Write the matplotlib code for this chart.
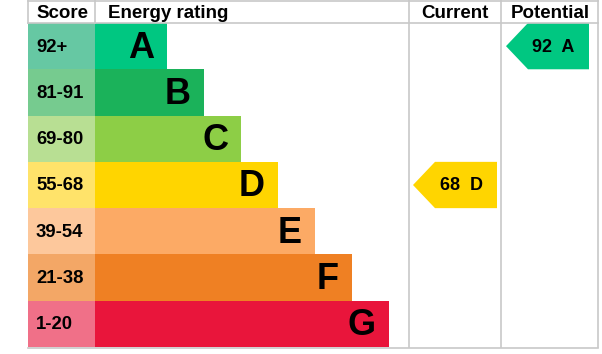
"""EPC energy rating chart."""

import matplotlib.pyplot as plt
from matplotlib.patches import Polygon

plt.rcParams['font.family'] = ['Liberation Sans', 'DejaVu Sans']

# =============================================================================
# data
bands = ['A', 'B', 'C', 'D', 'E', 'F', 'G']
scores = ['92+', '81-91', '69-80', '55-68', '39-54', '21-38', '1-20']
bar_len = [72, 109, 146, 183, 220, 257, 294]
bar_colors = ['#00c781', '#1bb25a', '#8dce46', '#ffd500', '#fcaa65', '#ef8023', '#e9153b']
score_colors = ['#66c8a3', '#76cb8f', '#b8df93', '#ffe36a', '#fdc89c', '#f3a766', '#f07088']
current = (68, 'D')
potential = (92, 'A')

# layout (pixels)
W, H = 602, 354
x_left, x_score, x_cur, x_pot, x_right = 28, 95, 409, 501, 598
y_top, y_head, y_bot = 0, 23, 347
row_h = (y_bot - y_head) / len(bands)
grid = '#c8c8c8'

fig = plt.figure(figsize=(W / 100, H / 100), dpi=100)
ax = fig.add_axes([0, 0, 1, 1])
ax.set_xlim(0, W)
ax.set_ylim(H, 0)
ax.axis('off')

# =============================================================================
# bars
ys = [y_head + (i + 0.5) * row_h for i in range(len(bands))]
ax.barh(ys, [x_score - x_left] * len(bands), left=x_left, height=row_h,
        color=score_colors, edgecolor='none')
ax.barh(ys, bar_len, left=x_score, height=row_h, color=bar_colors, edgecolor='none')

for y, s, b, L in zip(ys, scores, bands, bar_len):
    ax.text(x_left + 8, y + 1, s, fontsize=13.3, fontweight='bold',
            ha='left', va='center')
    ax.text(x_score + L - 13, y + 2, b, fontsize=26, fontweight='bold',
            ha='right', va='center')

# =============================================================================
# grid lines
for x in [x_left, x_score]:
    ax.plot([x, x], [y_top, y_head], color=grid, lw=1.2)
for x in [x_cur, x_pot, x_right]:
    ax.plot([x, x], [y_top, y_bot], color=grid, lw=1.2)
ax.plot([x_left, x_right], [y_top + 0.6, y_top + 0.6], color=grid, lw=1.2)
ax.plot([x_left, x_right], [y_head, y_head], color=grid, lw=1.2)
ax.plot([x_left, x_right], [y_bot + 1, y_bot + 1], color=grid, lw=1.2)

# headers
ax.text(x_left + 8, 13, 'Score', fontsize=13.5, fontweight='bold', va='center')
ax.text(x_score + 13, 13, 'Energy rating', fontsize=13.5, fontweight='bold', va='center')
ax.text((x_cur + x_pot) / 2, 13, 'Current', fontsize=13.5, fontweight='bold',
        ha='center', va='center')
ax.text((x_pot + x_right) / 2 + 1, 13, 'Potential', fontsize=13.5, fontweight='bold',
        ha='center', va='center')


# =============================================================================
# arrows
def arrow(x0, x1, val, band):
    i = bands.index(band)
    top = y_head + i * row_h
    bot = top + row_h
    yc = (top + bot) / 2
    pts = [(x0, yc), (x0 + 22, top), (x1, top), (x1, bot), (x0 + 22, bot)]
    ax.add_patch(Polygon(pts, closed=True, color=bar_colors[i], lw=0))
    ax.text((x0 + x1) / 2 + 6, yc + 1, f'{val}  {band}', fontsize=13,
            fontweight='bold', ha='center', va='center')


arrow(x_cur + 4, x_pot - 4, *current)
arrow(x_pot + 5, x_right - 9, *potential)

fig.savefig('out.png', dpi=100)
